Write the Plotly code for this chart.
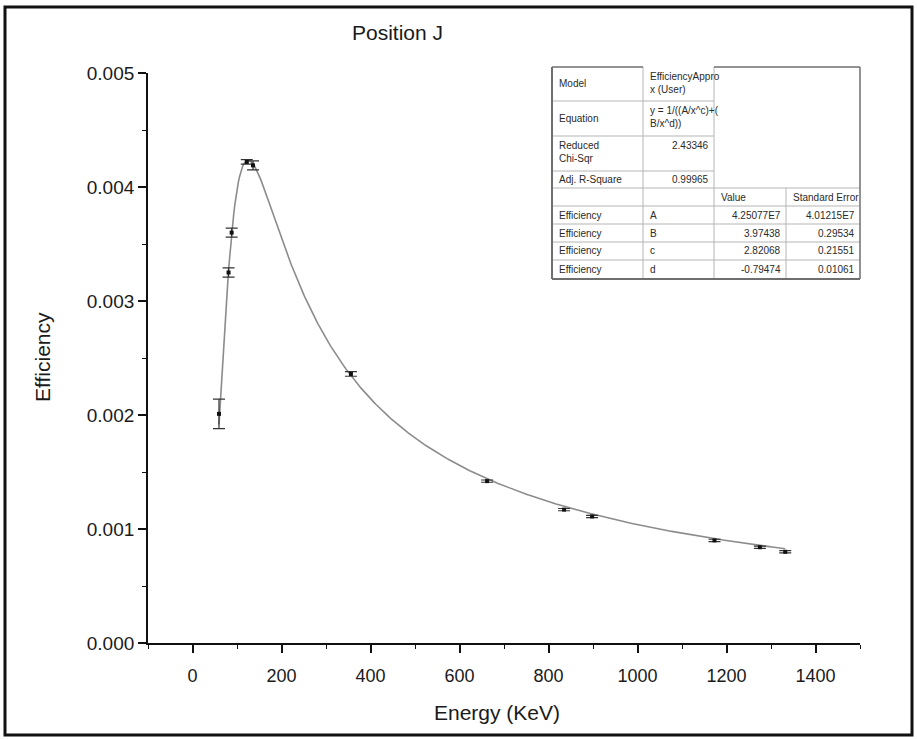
import numpy as np
import plotly.graph_objects as go

# Measured detector efficiency at position J
energy_kev = [59.5, 81, 88, 122, 136, 356, 662, 835, 898, 1173, 1275, 1332]
efficiency = [0.00201, 0.00325, 0.00360, 0.00422, 0.00419, 0.00236,
              0.00142, 0.00117, 0.00111, 0.00090, 0.00084, 0.00080]
efficiency_err = [0.00013, 0.00004, 0.00004, 0.00002, 0.00004, 0.00002,
                  0.00001, 0.00001, 0.00001, 0.00001, 0.00001, 0.00001]

# Fit summary: y = 1/((A/x^c)+(B/x^d))
param_names = ["A", "B", "c", "d"]
param_values = ["4.25077E7", "3.97438", "2.82068", "-0.79474"]
param_errors = ["4.01215E7", "0.29534", "0.21551", "0.01061"]
model_name = "EfficiencyAppro<br>x (User)"
equation_text = "y = 1/((A/x^c)+(<br>B/x^d))"
reduced_chi_sqr = "2.43346"
adj_r_square = "0.99965"

x_ticks = [0, 200, 400, 600, 800, 1000, 1200, 1400]
y_ticks = [0.000, 0.001, 0.002, 0.003, 0.004, 0.005]

A, B, c, d = (float(v) for v in param_values)
fit_x = np.linspace(min(energy_kev), max(energy_kev), 500)
fit_y = 1.0 / (A / fit_x ** c + B / fit_x ** d)

W, H = 917, 739
L, R, T, BOT = 148, 860, 73, 643


def px(x):
    return (x - L) / (R - L)


def py(y):
    return (BOT - y) / (BOT - T)


fig = go.Figure()

fig.add_trace(go.Scatter(
    x=fit_x, y=fit_y, mode="lines",
    line=dict(color="#8c8c8c", width=1.6),
    hoverinfo="skip", showlegend=False,
))

fig.add_trace(go.Scatter(
    x=energy_kev, y=efficiency, mode="markers",
    marker=dict(symbol="square", size=4, color="#111111"),
    error_y=dict(type="data", array=efficiency_err, visible=True,
                 color="#333333", thickness=1.2, width=6),
    showlegend=False,
))

font_main = "Liberation Sans, Arial, sans-serif"

fig.update_layout(
    width=W, height=H,
    margin=dict(l=L, r=W - R, t=T, b=H - BOT),
    paper_bgcolor="white", plot_bgcolor="white",
    font=dict(family=font_main, color="#1a1a1a"),
    xaxis=dict(
        range=[-100, 1500], tickvals=x_ticks, ticktext=[str(v) for v in x_ticks],
        showline=True, linecolor="#111111", linewidth=1.8,
        ticks="outside", ticklen=8, tickwidth=1.5, tickcolor="#111111",
        minor=dict(dtick=100, tick0=0, ticks="outside", ticklen=4,
                   tickwidth=1.3, tickcolor="#111111"),
        showgrid=False, zeroline=False, ticklabelstandoff=7,
        tickfont=dict(size=18, family=font_main, color="#1a1a1a"),
    ),
    yaxis=dict(
        range=[0, 0.005], tickvals=y_ticks, ticktext=[f"{v:.3f}" for v in y_ticks],
        showline=True, linecolor="#111111", linewidth=1.8,
        ticks="outside", ticklen=8, tickwidth=1.5, tickcolor="#111111",
        minor=dict(dtick=0.0005, tick0=0, ticks="outside", ticklen=4,
                   tickwidth=1.3, tickcolor="#111111"),
        showgrid=False, zeroline=False,
        tickfont=dict(size=19, family=font_main, color="#1a1a1a"),
    ),
)

annotations = [
    dict(text="Position J", x=px(397), y=py(32), xref="paper", yref="paper",
         xanchor="center", yanchor="middle", showarrow=False,
         font=dict(size=21, family=font_main, color="#1a1a1a")),
    dict(text="Energy (KeV)", x=px(497), y=py(712), xref="paper", yref="paper",
         xanchor="center", yanchor="middle", showarrow=False,
         font=dict(size=21, family=font_main, color="#1a1a1a")),
    dict(text="Efficiency", x=px(42), y=py(357), xref="paper", yref="paper",
         xanchor="center", yanchor="middle", textangle=-90, showarrow=False,
         font=dict(size=21, family=font_main, color="#1a1a1a")),
]

shapes = [
    # page frame
    dict(type="rect", xref="paper", yref="paper",
         x0=px(5), x1=px(912), y0=py(735), y1=py(7),
         line=dict(color="#111111", width=3)),
]

# Fit summary table
cols = [552, 643, 714, 786, 860]
rows = [67, 101, 136, 171, 188, 206, 224, 242, 260, 279]
grid_col = "#b5b5b5"
edge_col = "#6e6e6e"


def hline(y, x0, x1, color=grid_col, width=1):
    shapes.append(dict(type="line", xref="paper", yref="paper",
                       x0=px(x0), x1=px(x1), y0=py(y), y1=py(y),
                       line=dict(color=color, width=width)))


def vline(x, y0, y1, color=grid_col, width=1):
    shapes.append(dict(type="line", xref="paper", yref="paper",
                       x0=px(x), x1=px(x), y0=py(y0), y1=py(y1),
                       line=dict(color=color, width=width)))


for r in rows[1:-1]:
    hline(r, cols[0], cols[2])
for r in rows[4:-1]:
    hline(r, cols[2], cols[4])
vline(cols[1], rows[0], rows[-1])
vline(cols[2], rows[0], rows[-1])
vline(cols[3], rows[4], rows[-1])
# outer border
hline(rows[0], cols[0], cols[1], edge_col, 1.5)
hline(rows[0], cols[2], cols[4], edge_col, 1.5)
hline(rows[-1], cols[0], cols[4], edge_col, 2)
vline(cols[0], rows[0], rows[-1], edge_col, 2)
vline(cols[4], rows[0], rows[-1], edge_col, 1.5)

tfont = dict(size=10, family=font_main, color="#2a2a2a")


def cell(text, ci, ri, align="left", valign="middle"):
    x0, x1 = cols[ci], cols[ci + 1]
    y0, y1 = rows[ri], rows[ri + 1]
    if align == "left":
        x, xa = x0 + 5, "left"
    else:
        x, xa = x1 - 3, "right"
    if valign == "middle":
        y, ya = (y0 + y1) / 2, "middle"
    else:
        y, ya = y0 + 2, "top"
    annotations.append(dict(text=text, x=px(x), y=py(y), xref="paper", yref="paper",
                            xanchor=xa, yanchor=ya, align=align, showarrow=False,
                            font=tfont))


cell("Model", 0, 0)
cell(model_name, 1, 0, valign="top")
cell("Equation", 0, 1)
cell(equation_text, 1, 1, valign="top")
cell("Reduced<br>Chi-Sqr", 0, 2, valign="top")
cell(reduced_chi_sqr, 1, 2, align="right", valign="top")
cell("Adj. R-Square", 0, 3)
cell(adj_r_square, 1, 3, align="right")
cell("Value", 2, 4)
cell("Standard Error", 3, 4)
for i, name in enumerate(param_names):
    cell("Efficiency", 0, 5 + i)
    cell(name, 1, 5 + i)
    cell(param_values[i], 2, 5 + i, align="right")
    cell(param_errors[i], 3, 5 + i, align="right")

fig.update_layout(annotations=annotations, shapes=shapes)

fig.write_html("out.html")
